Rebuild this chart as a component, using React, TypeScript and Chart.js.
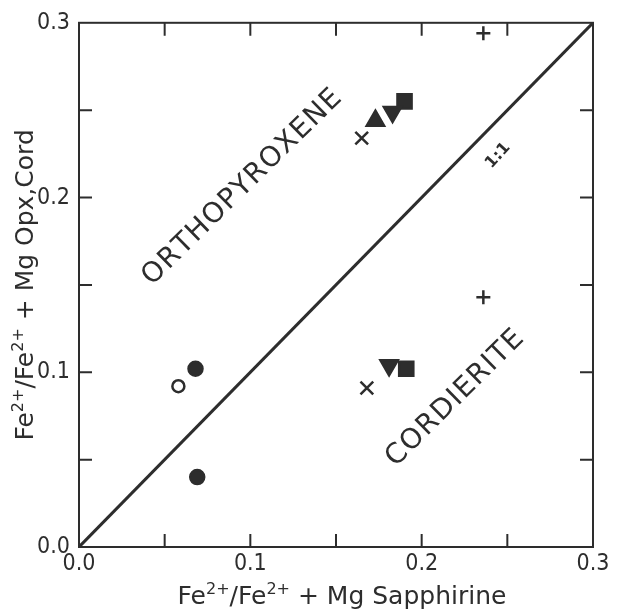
import React, { useEffect, useRef } from "react";
import { Chart, registerables } from "chart.js";

Chart.register(...registerables);

// Fe2+/(Fe2+ + Mg) of sapphirine (x) against coexisting orthopyroxene / cordierite (y)
const crossRotX = [0.165, 0.168];
const crossRotY = [0.234, 0.091];
const plusX = [0.236, 0.236];
const plusY = [0.294, 0.143];
const triUpX = [0.173];
const triUpY = [0.244];
const triDownX = [0.183, 0.181];
const triDownY = [0.249, 0.104];
const squareX = [0.19, 0.191];
const squareY = [0.255, 0.102];
const dotX = [0.068, 0.069];
const dotY = [0.102, 0.04];
const ringX = [0.058];
const ringY = [0.092];
const oneToOne = [0, 0.3];

const axisMin = 0;
const axisMax = 0.3;
const labelStep = 0.1;
const tickStep = 0.05;

const INK = "#2d2d2d";
const FONT = "'Liberation Sans Narrow', 'DejaVu Sans Condensed', 'Liberation Sans', sans-serif";
const TEXT_FONT = "'DejaVu Sans', 'Liberation Sans', sans-serif";

const pts = (xs: number[], ys: number[]) => xs.map((x, i) => ({ x, y: ys[i] }));

type Seg = { t: string; sup?: boolean };

function drawRich(ctx: CanvasRenderingContext2D, segs: Seg[], size: number) {
  const supSize = Math.round(size * 0.64);
  const widths = segs.map((s) => {
    ctx.font = `${s.sup ? supSize : size}px ${TEXT_FONT}`;
    return ctx.measureText(s.t).width;
  });
  const total = widths.reduce((a, b) => a + b, 0);
  let x = -total / 2;
  segs.forEach((s, i) => {
    ctx.font = `${s.sup ? supSize : size}px ${TEXT_FONT}`;
    ctx.fillText(s.t, x, s.sup ? -size * 0.42 : 0);
    x += widths[i];
  });
}

const framePlugin = {
  id: "frameAndNotes",
  afterDatasetsDraw(chart: any) {
    const { ctx, chartArea: a, scales } = chart;
    const xs = scales.x;
    const ys = scales.y;
    ctx.save();
    ctx.strokeStyle = INK;
    ctx.lineWidth = 2;
    ctx.strokeRect(a.left, a.top, a.right - a.left, a.bottom - a.top);

    // inward ticks on all four sides
    const len = 13;
    ctx.beginPath();
    for (let v = axisMin + tickStep; v < axisMax - 1e-9; v += tickStep) {
      const px = xs.getPixelForValue(v);
      const py = ys.getPixelForValue(v);
      ctx.moveTo(px, a.bottom);
      ctx.lineTo(px, a.bottom - len);
      ctx.moveTo(px, a.top);
      ctx.lineTo(px, a.top + len);
      ctx.moveTo(a.left, py);
      ctx.lineTo(a.left + len, py);
      ctx.moveTo(a.right, py);
      ctx.lineTo(a.right - len, py);
    }
    ctx.stroke();

    ctx.fillStyle = INK;
    ctx.textAlign = "left";
    ctx.textBaseline = "middle";

    const rotText = (text: string, vx: number, vy: number, deg: number, font: string, spacing: number) => {
      ctx.save();
      ctx.translate(xs.getPixelForValue(vx), ys.getPixelForValue(vy));
      ctx.rotate((deg * Math.PI) / 180);
      ctx.font = font;
      const ws = [...text].map((c) => ctx.measureText(c).width);
      const total = ws.reduce((s, w) => s + w, 0) + spacing * (text.length - 1);
      let x = -total / 2;
      [...text].forEach((c, i) => {
        ctx.fillText(c, x, 0);
        x += ws[i] + spacing;
      });
      ctx.restore();
    };

    rotText("ORTHOPYROXENE", 0.0952, 0.2057, -44.4, `28px ${TEXT_FONT}`, 1.2);
    rotText("CORDIERITE", 0.2195, 0.085, -44.6, `28px ${TEXT_FONT}`, 1.2);
    rotText("1:1", 0.2446, 0.224, -48, `bold 16px ${TEXT_FONT}`, 0);

    // axis titles
    ctx.textAlign = "left";
    ctx.textBaseline = "alphabetic";
    ctx.save();
    ctx.translate(xs.getPixelForValue(0.1535), 604);
    drawRich(
      ctx,
      [{ t: "Fe" }, { t: "2+", sup: true }, { t: "/Fe" }, { t: "2+", sup: true }, { t: " + Mg Sapphirine" }],
      25
    );
    ctx.restore();

    ctx.save();
    ctx.translate(33, ys.getPixelForValue(0.15));
    ctx.rotate(-Math.PI / 2);
    drawRich(
      ctx,
      [{ t: "Fe" }, { t: "2+", sup: true }, { t: "/Fe" }, { t: "2+", sup: true }, { t: " + Mg Opx,Cord" }],
      25
    );
    ctx.restore();

    ctx.restore();
  },
};

export default function App() {
  const ref = useRef<HTMLCanvasElement>(null);

  useEffect(() => {
    if (!ref.current) return;
    const mark = (
      data: { x: number; y: number }[],
      style: string,
      radius: number,
      filled: boolean,
      rotation = 0
    ) => ({
      type: "scatter" as const,
      data,
      pointStyle: style,
      pointRadius: radius,
      pointHoverRadius: radius,
      pointRotation: rotation,
      pointBackgroundColor: filled ? INK : "#ffffff",
      pointBorderColor: INK,
      pointBorderWidth: 2.5,
      showLine: false,
    });

    const chart = new Chart(ref.current, {
      type: "scatter",
      data: {
        datasets: [
          {
            type: "line",
            data: pts(oneToOne, oneToOne),
            borderColor: INK,
            borderWidth: 3,
            pointRadius: 0,
            fill: false,
          } as any,
          mark(pts(crossRotX, crossRotY), "crossRot", 9, false),
          mark(pts(plusX, plusY), "cross", 7, false),
          mark(pts(triUpX, triUpY), "triangle", 10, true),
          mark(pts(triDownX, triDownY), "triangle", 10, true, 180),
          mark(pts(squareX, squareY), "rect", 10, true),
          mark(pts(dotX, dotY), "circle", 7, true),
          mark(pts(ringX, ringY), "circle", 6, false),
        ],
      },
      options: {
        responsive: false,
        animation: false,
        layout: { padding: { left: 0, top: 22, right: 25, bottom: 0 } },
        plugins: { legend: { display: false }, tooltip: { enabled: false } },
        scales: {
          x: {
            type: "linear",
            min: axisMin,
            max: axisMax,
            grid: { display: false, drawTicks: false, tickLength: 0 },
            border: { display: false },
            ticks: {
              stepSize: labelStep,
              color: INK,
              padding: 3,
              font: { family: FONT, size: 23 },
              callback: (v: any) => Number(v).toFixed(1),
            },
            afterFit: (s: any) => {
              s.height = 62;
            },
          },
          y: {
            type: "linear",
            min: axisMin,
            max: axisMax,
            grid: { display: false, drawTicks: false, tickLength: 0 },
            border: { display: false },
            ticks: {
              stepSize: labelStep,
              color: INK,
              padding: 9,
              font: { family: FONT, size: 23 },
              callback: (v: any) => Number(v).toFixed(1),
            },
            afterFit: (s: any) => {
              s.width = 79;
            },
          },
        },
      },
      plugins: [framePlugin],
    });
    return () => chart.destroy();
  }, []);

  return (
    <div style={{ position: "fixed", left: 0, top: 0, width: 618, height: 609, background: "#fff" }}>
      <canvas ref={ref} width={618} height={609} />
    </div>
  );
}
